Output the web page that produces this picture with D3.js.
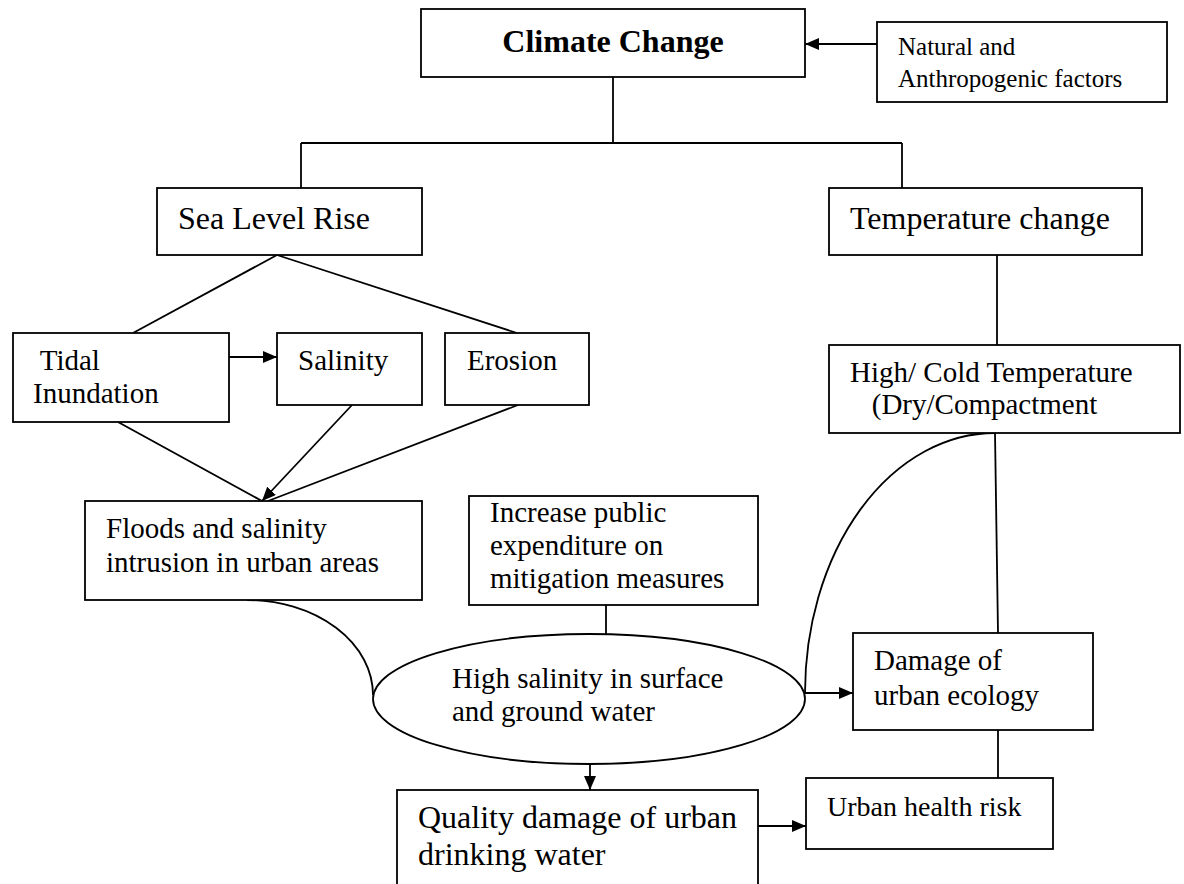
<!DOCTYPE html>
<html>
<head>
<meta charset="utf-8">
<script src="https://cdnjs.cloudflare.com/ajax/libs/d3/7.8.5/d3.min.js"></script>
<style>
  body { margin: 0; background: #fff; }
  svg { display: block; }
  .box { fill: #fff; stroke: #000; stroke-width: 1.8; }
  .link { fill: none; stroke: #000; stroke-width: 1.8; }
  text { font-family: "Liberation Serif", "Times New Roman", Times, serif; fill: #000; }
</style>
</head>
<body>
<svg id="chart"></svg>
<script>
// node ids and their text lines
var nodeIds = ['climate', 'natural', 'sea', 'temp', 'tidal', 'salinity', 'erosion', 'highcold',
  'floods', 'increase', 'highsal', 'damage', 'quality', 'health'];
var nodeLabels = [
  ['Climate Change'],
  ['Natural and', 'Anthropogenic factors'],
  ['Sea Level Rise'],
  ['Temperature change'],
  [' Tidal', 'Inundation'],
  ['Salinity'],
  ['Erosion'],
  ['High/ Cold Temperature', '   (Dry/Compactment'],
  ['Floods and salinity', 'intrusion in urban areas'],
  ['Increase public', 'expenditure on', 'mitigation measures'],
  ['High salinity in surface', 'and ground water'],
  ['Damage of', 'urban ecology'],
  ['Quality damage of urban', 'drinking water'],
  ['Urban health risk']
];
// edges: from, to, arrow?
var edgeFrom = ['natural', 'tidal', 'salinity', 'highsal', 'highsal', 'quality'];
var edgeTo   = ['climate', 'salinity', 'floods', 'damage', 'quality', 'health'];

var width = 1184, height = 884;

// layout of the drawing (positions kept apart from the data)
var layout = {
  climate:  {x: 421, y: 9,   w: 384, h: 68,  tx: 613, ty: 52,  size: 32, bold: true, anchor: 'middle'},
  natural:  {x: 877, y: 22,  w: 290, h: 80,  tx: 898, ty: 55,  size: 25, lh: 32},
  sea:      {x: 157, y: 188, w: 265, h: 67,  tx: 178, ty: 229, size: 32},
  temp:     {x: 829, y: 188, w: 313, h: 67,  tx: 850, ty: 229, size: 32},
  tidal:    {x: 13,  y: 333, w: 216, h: 89,  tx: 33,  ty: 370, size: 29, lh: 33},
  salinity: {x: 277, y: 333, w: 145, h: 72,  tx: 298, ty: 370, size: 29},
  erosion:  {x: 445, y: 333, w: 144, h: 72,  tx: 467, ty: 370, size: 29},
  highcold: {x: 829, y: 345, w: 351, h: 88,  tx: 850, ty: 382, size: 29, lh: 32},
  floods:   {x: 85,  y: 501, w: 337, h: 99,  tx: 106, ty: 538, size: 29, lh: 34},
  increase: {x: 469, y: 496, w: 289, h: 109, tx: 490, ty: 522, size: 29, lh: 33},
  highsal:  {cx: 589, cy: 699, rx: 216, ry: 65, tx: 452, ty: 688, size: 29, lh: 33, ellipse: true},
  damage:   {x: 853, y: 633, w: 240, h: 97,  tx: 874, ty: 670, size: 29, lh: 35},
  quality:  {x: 397, y: 790, w: 361, h: 100, tx: 418, ty: 828, size: 32, lh: 37},
  health:   {x: 806, y: 778, w: 247, h: 71,  tx: 827, ty: 816, size: 28}
};

// plain connector lines (not arrows)
var plainLines = [
  [[613, 77], [613, 143]],
  [[301, 143], [902, 143]],
  [[301, 143], [301, 188]],
  [[902, 143], [902, 188]],
  [[277, 255], [133, 333]],
  [[277, 255], [517, 333]],
  [[118, 422], [262, 501]],
  [[518, 405], [268, 501]],
  [[997, 255], [997, 345]],
  [[995, 433], [998, 633]],
  [[998, 730], [998, 778]],
  [[606, 605], [606, 634]]
];

// arrow end points, in the order of edgeFrom/edgeTo
var arrowPts = [
  [[877, 44], [805, 44]],
  [[229, 357], [277, 357]],
  [[352, 405], [262, 501]],
  [[805, 693], [853, 693]],
  [[590, 764], [590, 790]],
  [[758, 826], [806, 826]]
];

var svg = d3.select('#chart')
  .attr('width', width)
  .attr('height', height)
  .attr('viewBox', '0 0 ' + width + ' ' + height);

svg.append('rect').attr('width', width).attr('height', height).attr('fill', '#fff');

svg.append('defs').append('marker')
  .attr('id', 'arrow')
  .attr('viewBox', '0 0 14 12')
  .attr('refX', 14)
  .attr('refY', 6)
  .attr('markerWidth', 14)
  .attr('markerHeight', 12)
  .attr('markerUnits', 'userSpaceOnUse')
  .attr('orient', 'auto')
  .append('path')
  .attr('d', 'M0,0 L14,6 L0,12 Z')
  .attr('fill', '#000');

var line = d3.line();

// curved links
var curves = [
  'M247,600 A126,95 0 0 1 373,695',
  'M995,433 A190,260 0 0 0 805,693'
];

svg.append('g').selectAll('path')
  .data(plainLines)
  .enter().append('path')
  .attr('class', 'link')
  .attr('d', function(d) { return line(d); });

svg.append('g').selectAll('path')
  .data(curves)
  .enter().append('path')
  .attr('class', 'link')
  .attr('d', function(d) { return d; });

// nodes
var nodes = nodeIds.map(function(id, i) {
  return Object.assign({id: id, lines: nodeLabels[i]}, layout[id]);
});

var g = svg.append('g').selectAll('g')
  .data(nodes)
  .enter().append('g');

g.each(function(d) {
  var sel = d3.select(this);
  if (d.ellipse) {
    sel.append('ellipse')
      .attr('class', 'box')
      .attr('cx', d.cx).attr('cy', d.cy)
      .attr('rx', d.rx).attr('ry', d.ry);
  } else {
    sel.append('rect')
      .attr('class', 'box')
      .attr('x', d.x).attr('y', d.y)
      .attr('width', d.w).attr('height', d.h);
  }
  sel.selectAll('text')
    .data(d.lines)
    .enter().append('text')
    .attr('x', d.tx)
    .attr('y', function(t, j) { return d.ty + j * (d.lh || 33); })
    .attr('text-anchor', d.anchor || 'start')
    .style('font-size', d.size + 'px')
    .style('font-weight', d.bold ? 'bold' : 'normal')
    .style('white-space', 'pre')
    .text(function(t) { return t; });
});

// arrows
svg.append('g').selectAll('path')
  .data(edgeFrom.map(function(f, i) { return {from: f, to: edgeTo[i], pts: arrowPts[i]}; }))
  .enter().append('path')
  .attr('class', 'link')
  .attr('marker-end', 'url(#arrow)')
  .attr('d', function(d) { return line(d.pts); });
</script>
</body>
</html>
